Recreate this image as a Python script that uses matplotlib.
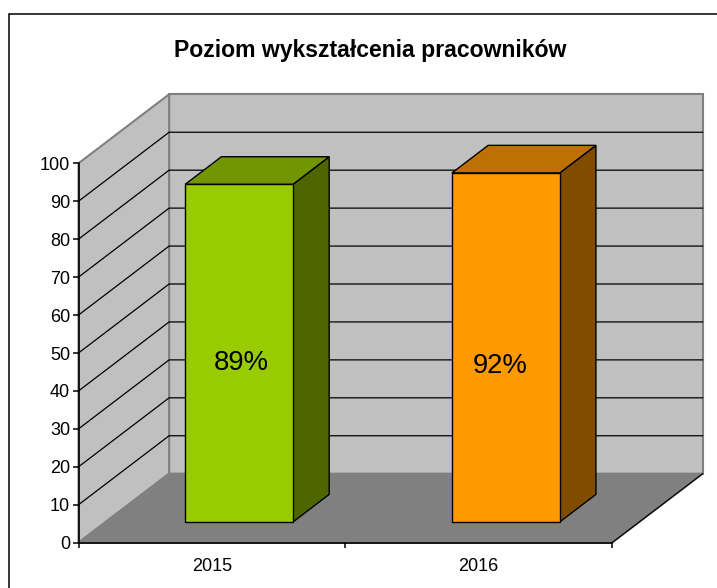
#!/usr/bin/env python3

"""
Wykres slupkowy 3D (w stylu Excela) rysowany rzutem ukosnym na zwyklych osiach
"""

import matplotlib
matplotlib.use("Agg")
import matplotlib.pyplot as plt
from matplotlib.patches import Polygon, Rectangle

plt.rcParams['font.family'] = ['Liberation Sans', 'DejaVu Sans']

years = ["2015", "2016"]
values = [89, 92]
bar_labels = ["89%", "92%"]
y_ticks = list(range(0, 101, 10))
title = "Poziom wykształcenia pracowników"

front_colors = ["#99CC00", "#FF9900"]
top_colors = ["#719600", "#BD7100"]
side_colors = ["#4D6600", "#804D00"]

W, H = 717, 588
# oblique offset of the full chart depth, in data units
DEPTH_X = 90.7 / 267.0
DEPTH_Y = 69.0 / 3.794
BAR_WIDTH = 0.404
BAR_Z0, BAR_Z1 = 0.3, 0.7
# the labels were placed by hand in the original, not centred on the bars
LABEL_X = [0.609, 1.58]
LABEL_Y = [47.4, 46.6]


def proj(x, v, z):
    return x + z * DEPTH_X, v + z * DEPTH_Y


def face(ax, pts, color, edge, lw=1.0, z=2):
    ax.add_patch(Polygon(pts, closed=True, facecolor=color, edgecolor=edge,
                         linewidth=lw, joinstyle='miter', clip_on=False, zorder=z))


def draw_walls(ax):
    n = len(years)
    back = [proj(0, 0, 1), proj(n, 0, 1), proj(n, 100, 1), proj(0, 100, 1)]
    side = [proj(0, 0, 0), proj(0, 0, 1), proj(0, 100, 1), proj(0, 100, 0)]
    floor = [proj(0, 0, 0), proj(n, 0, 0), proj(n, 0, 1), proj(0, 0, 1)]
    face(ax, back, "#C0C0C0", "#808080", 1.5, 1)
    face(ax, side, "#C0C0C0", "#808080", 1.5, 1)
    face(ax, floor, "#808080", "#808080", 1.5, 1)
    for v in y_ticks[1:-1]:
        ax.plot(*zip(proj(0, v, 0), proj(0, v, 1), proj(n, v, 1)), color="black",
                lw=0.9, clip_on=False, zorder=1.5, solid_joinstyle='miter')
    # front right edge of the floor
    ax.plot(*zip(proj(n, 0, 0), proj(n, 0, 1)), color="black", lw=0.9,
            clip_on=False, zorder=1.5)


def draw_bars(ax):
    for i, v in enumerate(values):
        x0 = i + 0.5 - BAR_WIDTH / 2
        x1 = i + 0.5 + BAR_WIDTH / 2
        front = [proj(x0, 0, BAR_Z0), proj(x1, 0, BAR_Z0), proj(x1, v, BAR_Z0), proj(x0, v, BAR_Z0)]
        top = [proj(x0, v, BAR_Z0), proj(x1, v, BAR_Z0), proj(x1, v, BAR_Z1), proj(x0, v, BAR_Z1)]
        side = [proj(x1, 0, BAR_Z0), proj(x1, 0, BAR_Z1), proj(x1, v, BAR_Z1), proj(x1, v, BAR_Z0)]
        face(ax, side, side_colors[i], "black")
        face(ax, top, top_colors[i], "black")
        face(ax, front, front_colors[i], "black")
        ax.text(LABEL_X[i], LABEL_Y[i], bar_labels[i], ha='center', va='center',
                fontsize=19.8, color="black", zorder=3)


def main():
    fig = plt.figure(figsize=(W / 100, H / 100), dpi=100, facecolor="white")
    # outer chart frame runs off the right and bottom of the picture
    fig.add_artist(Rectangle((8.5 / W, -0.1), 1.0, 1.1 - 14.0 / H,
                             transform=fig.transFigure, facecolor="white",
                             edgecolor="black", linewidth=1.1, zorder=-1))

    ax = fig.add_axes([78.5 / W, 1 - 542.7 / H, 533.5 / W, 379.4 / H])
    ax.set_xlim(0, len(years))
    ax.set_ylim(0, 100)
    ax.patch.set_visible(False)
    for s in ("top", "right"):
        ax.spines[s].set_visible(False)
    ax.spines["left"].set_linewidth(1.2)
    ax.spines["bottom"].set_linewidth(1.2)
    ax.spines["left"].set_zorder(4)
    ax.spines["bottom"].set_zorder(4)

    ax.set_yticks(y_ticks)
    ax.set_yticklabels([str(t) for t in y_ticks], fontsize=13)
    ax.tick_params(axis='y', length=4, width=1.1, direction='out', pad=2, color="black")

    ax.set_xticks(range(len(years) + 1))
    ax.set_xticklabels([])
    ax.set_xticks([i + 0.5 for i in range(len(years))], minor=True)
    ax.set_xticklabels(years, minor=True, fontsize=13)
    ax.tick_params(axis='x', which='major', length=3.6, width=1.1, direction='out')
    ax.tick_params(axis='x', which='minor', length=0, pad=11)

    draw_walls(ax)
    draw_bars(ax)

    fig.text(370 / W, 1 - 51 / H, title, ha='center', va='center', fontsize=16.6,
             fontweight='bold', color="black")
    fig.savefig("out.png", dpi=100)


if __name__ == '__main__':
    main()
